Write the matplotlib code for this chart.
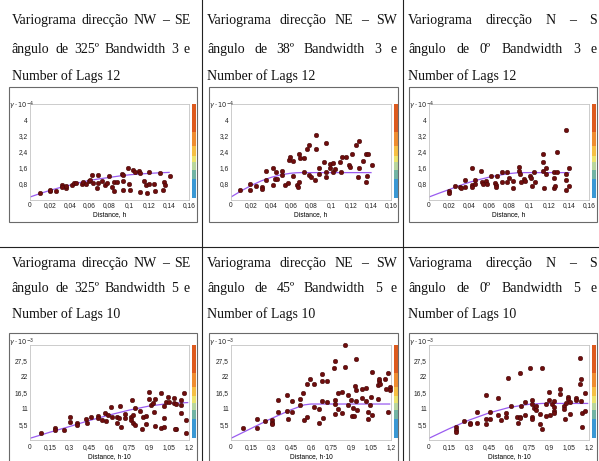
import matplotlib.pyplot as plt
from matplotlib.patches import Rectangle
from matplotlib.lines import Line2D

## variogram panels: NW-SE, NE-SW, N-S for two bandwidth / lag settings

# panel texts (justified lines + last line)
titles_top = [
    (["Variograma", "direcção", "NW", "–", "SE"], ["ângulo", "de", "325º", "Bandwidth", "3", "e"], "Number of Lags 12"),
    (["Variograma", "direcção", "NE", "–", "SW"], ["ângulo", "de", "38º", "Bandwidth", "3", "e"], "Number of Lags 12"),
    (["Variograma", "direcção", "N", "–", "S"], ["ângulo", "de", "0º", "Bandwidth", "3", "e"], "Number of Lags 12"),
]
titles_bottom = [
    (["Variograma", "direcção", "NW", "–", "SE"], ["ângulo", "de", "325º", "Bandwidth", "5", "e"], "Number of Lags 10"),
    (["Variograma", "direcção", "NE", "–", "SW"], ["ângulo", "de", "45º", "Bandwidth", "5", "e"], "Number of Lags 10"),
    (["Variograma", "direcção", "N", "–", "S"], ["ângulo", "de", "0º", "Bandwidth", "5", "e"], "Number of Lags 10"),
]

# axis ticks
top_xticks = [0, 0.02, 0.04, 0.06, 0.08, 0.1, 0.12, 0.14, 0.16]
top_xlabels = ['0', '0,02', '0,04', '0,06', '0,08', '0,1', '0,12', '0,14', '0,16']
top_yticks = [0.8, 1.6, 2.4, 3.2, 4]
top_ylabels = ['0,8', '1,6', '2,4', '3,2', '4']
bot_xticks = [0, 0.15, 0.3, 0.45, 0.6, 0.75, 0.9, 1.05, 1.2]
bot_xlabels = ['0', '0,15', '0,3', '0,45', '0,6', '0,75', '0,9', '1,05', '1,2']
bot_yticks = [5.5, 11, 16.5, 22, 27.5]
bot_ylabels = ['5,5', '11', '16,5', '22', '27,5']

# experimental variogram points (distance, gamma)
pts_nw_3 = [(0.010,0.33),(0.020,0.44),(0.020,0.52),(0.026,0.44),(0.032,0.77),(0.032,0.64),(0.036,0.60),(0.036,0.69),
            (0.042,0.77),(0.044,0.85),(0.046,0.85),(0.052,0.80),(0.053,0.90),(0.056,0.80),(0.059,0.93),(0.060,1.00),
            (0.063,0.85),(0.062,1.23),(0.068,1.23),(0.068,0.85),(0.067,0.60),(0.072,0.94),(0.075,0.77),(0.077,0.85),
            (0.079,1.18),(0.083,0.64),(0.085,0.44),(0.085,0.89),(0.088,0.89),(0.093,1.30),(0.094,1.23),(0.094,0.94),
            (0.094,0.52),(0.099,1.62),(0.100,0.80),(0.101,0.52),(0.104,1.51),(0.106,1.40),(0.110,1.46),(0.111,1.35),
            (0.111,0.41),(0.115,0.94),(0.117,0.77),(0.118,0.36),(0.120,1.40),(0.120,0.80),(0.125,0.80),(0.126,0.44),
            (0.131,1.35),(0.134,0.52),(0.135,0.89),(0.136,0.77),(0.141,1.18)]
pts_ne_3 = [(0.0093,0.48),(0.019,0.80),(0.019,0.48),(0.025,0.69),(0.031,0.64),(0.031,0.57),(0.035,1.46),(0.035,1.02),
            (0.042,1.62),(0.042,0.77),(0.044,1.05),(0.045,1.39),(0.046,1.05),(0.051,1.46),(0.051,1.26),(0.054,0.77),
            (0.057,0.85),(0.058,2.00),(0.059,2.13),(0.062,1.95),(0.062,1.21),(0.066,0.77),(0.067,0.64),(0.068,0.90),
            (0.068,2.28),(0.069,2.08),(0.073,2.08),(0.073,1.39),(0.076,2.53),(0.078,2.74),(0.078,1.26),(0.080,1.13),
            (0.084,1.02),(0.085,3.27),(0.085,2.53),(0.088,1.59),(0.088,1.31),(0.093,1.92),(0.095,2.86),(0.095,1.39),
            (0.095,1.13),(0.099,1.79),(0.102,1.84),(0.099,1.62),(0.102,1.39),(0.104,1.56),(0.109,1.89),(0.110,1.39),
            (0.111,2.17),(0.115,2.17),(0.118,1.76),(0.119,1.67),(0.121,2.28),(0.125,2.74),(0.128,2.94),(0.127,1.13),
            (0.128,1.59),(0.132,1.95),(0.135,2.28),(0.137,2.28),(0.135,0.90),(0.136,1.18),(0.141,1.76)]
pts_ns_3 = [(0.020,0.44),(0.020,0.36),(0.026,0.72),(0.031,0.66),(0.032,0.61),(0.036,1.02),(0.036,0.64),(0.043,1.62),
            (0.043,0.77),(0.043,0.64),(0.046,1.02),(0.046,0.80),(0.052,1.46),(0.053,0.89),(0.054,0.80),(0.057,0.97),
            (0.058,0.80),(0.062,1.21),(0.066,0.85),(0.067,0.77),(0.067,0.64),(0.068,1.18),(0.073,1.38),(0.073,0.90),
            (0.078,1.38),(0.078,0.89),(0.080,1.10),(0.084,0.97),(0.084,0.61),(0.090,1.67),(0.090,1.46),(0.091,1.30),
            (0.092,0.89),(0.095,1.07),(0.096,0.94),(0.101,1.18),(0.102,1.10),(0.103,0.69),(0.105,1.38),(0.106,0.90),
            (0.114,2.28),(0.114,1.92),(0.114,1.46),(0.115,0.61),(0.117,1.62),(0.117,1.30),(0.125,1.39),(0.125,1.10),
            (0.125,0.61),(0.126,0.69),(0.128,1.39),(0.128,2.41),(0.137,3.48),(0.137,1.02),(0.137,1.30),(0.137,0.48),
            (0.140,1.59),(0.140,0.69)]
pts_nw_5 = [(0.085,2.3),(0.19,4.05),(0.19,3.5),(0.254,3.5),(0.304,7.9),(0.304,6.4),(0.354,5.8),(0.354,5.2),
            (0.42,7.2),(0.43,5.8),(0.46,8.1),(0.51,8.3),(0.515,7.5),(0.54,6.9),(0.565,9.5),(0.57,6.7),(0.59,8.7),
            (0.615,11.6),(0.62,7.9),(0.66,7.9),(0.66,6.0),(0.67,7.5),(0.68,11.8),(0.69,4.6),(0.715,8.9),(0.715,7.5),
            (0.76,7.9),(0.765,6.9),(0.77,13.9),(0.775,8.7),(0.775,6.0),(0.795,11.0),(0.795,5.2),(0.83,10.2),
            (0.845,3.7),(0.85,7.9),(0.875,8.3),(0.875,5.6),(0.895,16.8),(0.895,14.1),(0.91,12.2),(0.93,13.0),
            (0.935,9.8),(0.94,14.1),(0.94,4.9),(0.985,16.2),(0.99,4.05),(1.01,7.5),(1.01,4.6),(1.015,11.8),
            (1.025,13.3),(1.04,14.8),(1.05,13.3),(1.09,14.5),(1.09,13.0),(1.1,3.7),(1.095,3.7),(1.1,12.5),
            (1.14,13.9),(1.14,12.2),(1.14,9.3),(1.16,16.2),(1.18,6.9),(1.18,2.5)]
pts_ne_5 = [(0.087,4.05),(0.194,7.2),(0.194,4.3),(0.253,6.7),(0.305,6.9),(0.305,5.8),(0.305,5.4),(0.355,13.9),
            (0.355,9.8),(0.42,15.6),(0.42,10.2),(0.425,7.2),(0.46,13.7),(0.46,9.8),(0.514,14.2),(0.516,12.2),
            (0.54,16.2),(0.546,6.9),(0.57,7.9),(0.57,19.5),(0.596,21.2),(0.62,19.4),(0.62,11.3),(0.66,10.8),
            (0.66,5.8),(0.68,22.8),(0.68,20.6),(0.68,13.7),(0.69,7.5),(0.72,20.6),(0.72,13.3),(0.77,24.9),
            (0.78,27.6),(0.78,13.9),(0.78,12.5),(0.78,9.0),(0.8,16.2),(0.8,10.7),(0.83,16.8),(0.83,9.3),
            (0.855,33.0),(0.855,25.2),(0.88,15.6),(0.88,12.2),(0.9,13.9),(0.91,8.3),(0.915,11.0),(0.92,8.3),
            (0.93,18.8),(0.94,28.1),(0.94,17.4),(0.94,13.7),(0.945,10.4),(0.985,17.6),(0.985,14.5),(1.01,18.0),
            (1.015,13.7),(1.03,9.8),(1.03,7.2),(1.04,12.2),(1.05,15.1),(1.055,8.7),(1.06,23.7),(1.1,19.1),
            (1.11,20.6),(1.11,21.1),(1.1,14.1),(1.12,19.4),(1.155,21.1),(1.16,17.6),(1.18,23.2),(1.18,9.8),
            (1.19,18.3),(1.19,17.4)]
pts_ns_5 = [(0.2,4.4),(0.2,3.5),(0.2,2.9),(0.26,6.7),(0.31,6.0),(0.31,5.6),(0.36,9.8),(0.36,6.0),(0.425,15.6),
            (0.425,7.2),(0.425,5.6),(0.46,9.8),(0.46,7.2),(0.52,14.5),(0.52,8.7),(0.54,6.9),(0.575,9.5),(0.575,7.9),
            (0.59,21.4),(0.615,11.8),(0.66,8.1),(0.67,5.8),(0.68,7.9),(0.685,7.5),(0.685,23.2),(0.69,11.8),
            (0.72,13.3),(0.72,8.7),(0.76,25.1),(0.775,13.9),(0.775,12.5),(0.775,7.9),(0.775,7.2),(0.79,11.0),
            (0.8,10.4),(0.805,11.8),(0.83,9.0),(0.83,5.6),(0.85,3.7),(0.85,25.1),(0.88,8.3),(0.88,12.5),(0.9,16.8),
            (0.9,13.9),(0.91,8.7),(0.92,12.5),(0.94,11.6),(0.94,10.2),(0.94,9.3),(0.94,13.7),(0.985,17.6),
            (0.985,16.0),(1.01,11.8),(1.01,10.7),(1.02,7.2),(1.03,13.0),(1.04,15.1),(1.04,14.1),(1.055,9.0),
            (1.055,13.3),(1.1,14.5),(1.1,13.9),(1.135,28.4),(1.135,19.5),(1.14,21.1),(1.14,13.7),(1.145,9.3),
            (1.145,4.6),(1.17,16.2),(1.17,10.2)]

# fitted model curves
model_nw_3_x = [0, 0.01, 0.02, 0.03, 0.04, 0.05, 0.06, 0.07, 0.08, 0.09, 0.10, 0.11, 0.12, 0.13, 0.14]
model_nw_3_y = [0.15, 0.32, 0.48, 0.62, 0.74, 0.87, 0.98, 1.06, 1.13, 1.20, 1.26, 1.30, 1.33, 1.36, 1.38]
model_ne_3_x = [0, 0.01, 0.02, 0.03, 0.04, 0.05, 0.06, 0.065, 0.07, 0.14]
model_ne_3_y = [0.15, 0.45, 0.72, 0.95, 1.13, 1.26, 1.34, 1.36, 1.37, 1.37]
model_ns_3_x = [0, 0.01, 0.02, 0.03, 0.04, 0.05, 0.06, 0.07, 0.08, 0.09, 0.14]
model_ns_3_y = [0.15, 0.34, 0.52, 0.71, 0.88, 1.02, 1.14, 1.24, 1.32, 1.37, 1.37]
model_nw_5_x = [0, 0.15, 0.3, 0.45, 0.6, 0.75, 0.9, 1.05, 1.19]
model_nw_5_y = [0.6, 2.7, 4.7, 6.8, 8.7, 10.4, 11.8, 12.7, 13.0]
model_ne_5_x = [0, 0.15, 0.3, 0.45, 0.55, 0.6, 1.19]
model_ne_5_y = [0.6, 4.0, 7.4, 10.5, 12.2, 12.5, 12.5]
model_ns_5_x = [0, 0.15, 0.3, 0.45, 0.6, 0.75, 0.85, 1.19]
model_ns_5_y = [0.6, 3.9, 6.9, 9.4, 11.3, 12.4, 12.7, 12.7]

# colour scale strip next to each plot (bottom -> top)
cbar_colors = ['#3a98d4', '#72b4a4', '#b9d69e', '#ece46c', '#f6bf44', '#ef8c30', '#dd5a1e']
cbar_edges = [0, 0.2, 0.3, 0.38, 0.45, 0.55, 0.7, 1.0]

W, H = 599, 461
fig = plt.figure(figsize=(W / 100, H / 100), dpi=100)
fig.patch.set_facecolor('white')

def fx(px):
    return px / W

def fy(py):
    return 1 - py / H

serif = 'Liberation Serif'
sans = 'Liberation Sans'
TXT = 10
TICK = 4.8

# table grid lines
for xl in [202, 403]:
    fig.add_artist(Line2D([fx(xl), fx(xl)], [0, 1], transform=fig.transFigure, color='#222222', lw=0.8))
fig.add_artist(Line2D([0, 1], [fy(247), fy(247)], transform=fig.transFigure, color='#222222', lw=0.8))

renderer = fig.canvas.get_renderer()

def justified(words, x_left, x_right, y_base):
    texts = [fig.text(0, fy(y_base), w, fontsize=TXT, family=serif, va='baseline', color='#111111') for w in words]
    widths = [t.get_window_extent(renderer).width for t in texts]
    gap = (x_right - x_left - sum(widths)) / (len(words) - 1)
    x = x_left
    for t, w in zip(texts, widths):
        t.set_x(fx(x))
        x += w + gap

def panel(col, row, title, pts, mx, my):
    x0 = 200 * col
    # text block
    if row == 0:
        bases = [24, 53, 80]
        frame = (87, 222)
        ax_top, ax_bot = 104, 200
    else:
        bases = [267, 292, 318]
        frame = (333, 470)
        ax_top, ax_bot = 345, 440
    left_t = [12, 207, 408][col]
    right_t = [190, 397, 597][col]
    justified(title[0], left_t, right_t, bases[0])
    justified(title[1], left_t, right_t, bases[1])
    fig.text(fx(left_t), fy(bases[2]), title[2], fontsize=TXT, family=serif, va='baseline', color='#111111')

    # picture frame
    fl, fr = [(9, 197), (209, 398), (409, 597)][col]
    fig.add_artist(Rectangle((fx(fl), fy(frame[1])), (fr - fl) / W, (frame[1] - frame[0]) / H,
                             transform=fig.transFigure, fill=False, edgecolor='#6a6a6a', lw=0.8))

    al, ar = [(30, 189), (231, 391), (429, 589)][col]
    ax = fig.add_axes([fx(al), fy(ax_bot), (ar - al) / W, (ax_bot - ax_top) / H])
    xs = [p[0] for p in pts]
    ys = [p[1] for p in pts]
    ax.plot(mx, my, color='#9a5cf0', lw=0.9, zorder=2)
    ax.scatter(xs, ys, s=11, c='#6e0d0d', edgecolors='#3a0505', linewidths=0.3, zorder=3, clip_on=False)

    if row == 0:
        ax.set_xlim(0, 0.16)
        ax.set_ylim(0, 4.8)
        ax.set_xticks(top_xticks)
        ax.set_xticklabels(top_xlabels)
        ax.set_yticks(top_yticks)
        ax.set_yticklabels(top_ylabels)
        ax.set_xlabel('Distance, h', fontsize=TICK, family=sans, labelpad=1.5)
        ylab = r'$\gamma\cdot10^{-4}$'
        ly = 106
        xpad = 1.5
    else:
        ax.set_xlim(0, 1.2)
        ax.set_ylim(0, 33)
        ax.set_xticks(bot_xticks)
        ax.set_xticklabels(bot_xlabels)
        ax.set_yticks(bot_yticks)
        ax.set_yticklabels(bot_ylabels)
        ax.set_xlabel('Distance, h·10', fontsize=TICK, family=sans, labelpad=1.5)
        ylab = r'$\gamma\cdot10^{-3}$'
        ly = 343
        xpad = 3
    ax.tick_params(axis='x', length=0, pad=xpad, labelsize=TICK, colors='#222222')
    ax.tick_params(axis='y', length=0, pad=1.5, labelsize=TICK, colors='#222222')
    for lab in ax.get_xticklabels() + ax.get_yticklabels():
        lab.set_family(sans)
    for s in ax.spines.values():
        s.set_color('#c4c4c4')
        s.set_linewidth(0.6)
    fig.text(fx(x0 + 9), fy(ly), ylab, fontsize=4.8, va='center', ha='left', color='#222222')

    # colour strip
    cax = fig.add_axes([fx(ar + 3), fy(ax_bot - 2), 4 / W, (ax_bot - 2 - ax_top) / H])
    for c, lo, hi in zip(cbar_colors, cbar_edges[:-1], cbar_edges[1:]):
        cax.axhspan(lo, hi, color=c, lw=0)
    cax.set_ylim(0, 1)
    cax.axis('off')

panel(0, 0, titles_top[0], pts_nw_3, model_nw_3_x, model_nw_3_y)
panel(1, 0, titles_top[1], pts_ne_3, model_ne_3_x, model_ne_3_y)
panel(2, 0, titles_top[2], pts_ns_3, model_ns_3_x, model_ns_3_y)
panel(0, 1, titles_bottom[0], pts_nw_5, model_nw_5_x, model_nw_5_y)
panel(1, 1, titles_bottom[1], pts_ne_5, model_ne_5_x, model_ne_5_y)
panel(2, 1, titles_bottom[2], pts_ns_5, model_ns_5_x, model_ns_5_y)

fig.savefig('out.png', dpi=100)
